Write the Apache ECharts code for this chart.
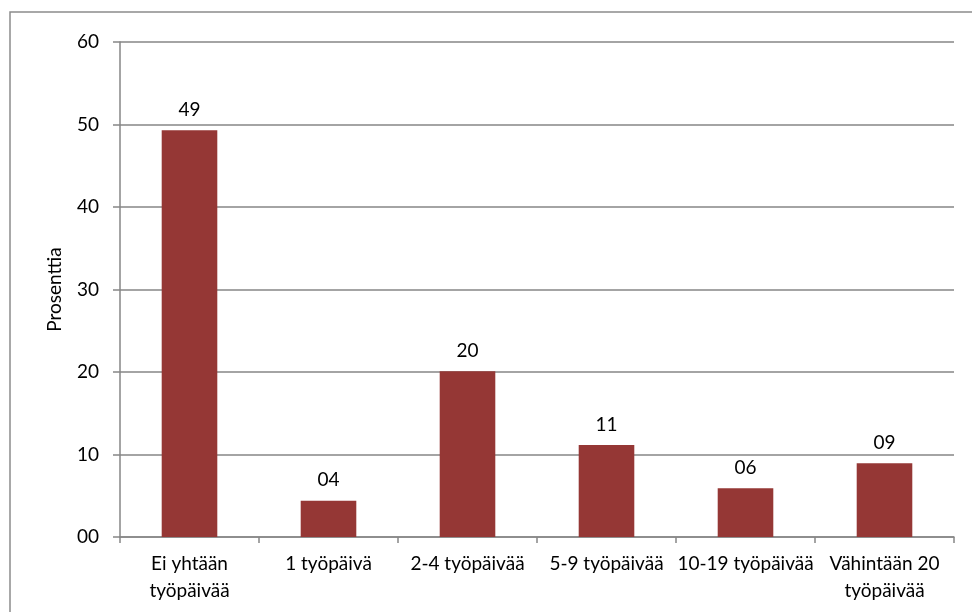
<!DOCTYPE html>
<html>
<head>
<meta charset="utf-8">
<script src="https://cdn.jsdelivr.net/npm/echarts@6/dist/echarts.min.js"></script>
<style>
  html, body { margin: 0; padding: 0; background: #fff; }
  #main { width: 972px; height: 612px; }
</style>
</head>
<body>
<div id="main"></div>
<script>
// kategoriat ja arvot (prosenttia)
var categories = ['Ei yhtään\ntyöpäivää', '1 työpäivä', '2-4 työpäivää', '5-9 työpäivää', '10-19 työpäivää', 'Vähintään 20\ntyöpäivää'];
var values = [49.3, 4.4, 20.1, 11.15, 5.9, 8.93];
var yTicks = [0, 10, 20, 30, 40, 50, 60];

var pad2 = function (v) {
  var s = String(Math.round(v));
  return s.length < 2 ? '0' + s : s;
};

var myChart = echarts.init(document.getElementById('main'));
var font = 'Lato, "Open Sans", sans-serif';

var option = {
  animation: false,
  graphic: [{
    type: 'rect',
    shape: { x: 10, y: 12, width: 1000, height: 700 },
    style: { fill: 'none', stroke: '#8c8c8c', lineWidth: 1.5 },
    silent: true
  }],
  grid: { left: 120, top: 42, right: 18, bottom: 75 },
  xAxis: {
    type: 'category',
    data: categories,
    axisLine: { lineStyle: { color: '#868686', width: 1.5 } },
    axisTick: { show: true, length: 6, alignWithLabel: false, lineStyle: { color: '#868686', width: 1.5 } },
    axisLabel: { color: '#000', fontSize: 19, fontFamily: font, margin: 13, lineHeight: 27, interval: 0 }
  },
  yAxis: {
    type: 'value',
    min: yTicks[0],
    max: yTicks[yTicks.length - 1],
    interval: 10,
    name: 'Prosenttia',
    nameLocation: 'middle',
    nameGap: 56,
    nameTextStyle: { color: '#000', fontSize: 19, fontFamily: font },
    axisLine: { show: true, lineStyle: { color: '#868686', width: 1.5 } },
    axisTick: { show: true, length: 7, lineStyle: { color: '#868686', width: 1.5 } },
    axisLabel: { color: '#000', fontSize: 19, fontFamily: font, margin: 21, formatter: pad2 },
    splitLine: { show: true, lineStyle: { color: '#868686', width: 1.5 } }
  },
  series: [{
    type: 'bar',
    data: values,
    barWidth: '40%',
    itemStyle: { color: '#953735' },
    label: {
      show: true,
      position: 'top',
      distance: 11,
      color: '#000',
      fontSize: 19,
      fontFamily: font,
      formatter: function (p) { return pad2(p.value); }
    }
  }]
};

myChart.setOption(option);
</script>
</body>
</html>
